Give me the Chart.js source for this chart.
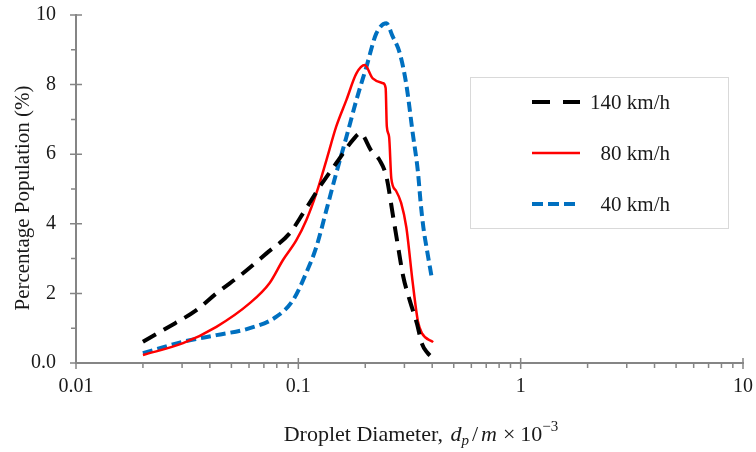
<!DOCTYPE html>
<html>
<head>
<meta charset="utf-8">
<script src="https://cdn.jsdelivr.net/npm/chart.js@4/dist/chart.umd.min.js"></script>
<style>
  body { margin: 0; background: #fff; }
</style>
</head>
<body>
<canvas id="dropChart" width="756" height="452"></canvas>
<script>
// droplet size distributions at three air speeds
const d140 = [0.02, 0.0255, 0.0348, 0.0428, 0.0564, 0.0719, 0.0915, 0.105, 0.125, 0.148, 0.176, 0.19, 0.213, 0.232, 0.249, 0.267, 0.28, 0.296, 0.317, 0.341, 0.36, 0.38, 0.404]
const p140 = [0.61, 1.0, 1.52, 2.0, 2.58, 3.15, 3.73, 4.3, 5.07, 5.74, 6.41, 6.6, 6.1, 5.83, 5.35, 4.2, 3.4, 2.5, 1.8, 1.15, 0.55, 0.3, 0.13]

const d80 = [0.02, 0.0303, 0.0428, 0.0605, 0.0743, 0.0853, 0.098, 0.1087, 0.1206, 0.1338, 0.148, 0.1646, 0.1825, 0.199, 0.216, 0.2405, 0.247, 0.25, 0.256, 0.262, 0.275, 0.29, 0.306, 0.327, 0.345, 0.36, 0.404]
const p80 = [0.23, 0.57, 1.04, 1.72, 2.3, 2.96, 3.53, 4.11, 4.88, 5.83, 6.79, 7.56, 8.32, 8.56, 8.18, 8.04, 7.9, 6.8, 6.5, 5.3, 4.95, 4.6, 3.9, 2.3, 1.2, 0.85, 0.6]

const d40 = [0.02, 0.0303, 0.0428, 0.0605, 0.0797, 0.0947, 0.1087, 0.1206, 0.1338, 0.148, 0.1646, 0.1825, 0.2024, 0.2243, 0.249, 0.265, 0.286, 0.306, 0.327, 0.345, 0.355, 0.365, 0.38, 0.397]
const p40 = [0.28, 0.61, 0.8, 1.0, 1.33, 1.81, 2.6, 3.34, 4.4, 5.45, 6.5, 7.56, 8.51, 9.47, 9.76, 9.4, 8.9, 8.0, 6.6, 5.5, 4.6, 3.9, 3.2, 2.5]

const seriesNames = ['140 km/h', '80 km/h', '40 km/h']
const xTickValues = [0.01, 0.1, 1, 10]
const yTickValues = [0, 2, 4, 6, 8, 10]

const serif = '"Liberation Serif", "Times New Roman", serif'
const axisColor = '#858585'
const textColor = '#1a1a1a'

const toPoints = (xs, ys) => xs.map((x, i) => ({x: x, y: ys[i]}))

// keep the plot box fixed, labels may hang over the edges
const fixScale = (scale, size) => {
  if (scale.isHorizontal()) scale.height = size
  else scale.width = size
  scale.paddingTop = 0
  scale.paddingBottom = 0
  scale.paddingLeft = 0
  scale.paddingRight = 0
}

// tick marks: long ones cross the axis, short ones hang outside
const axisTicks = {
  id: 'axisTicks',
  afterDraw(chart) {
    const {ctx, scales: {x, y}} = chart
    const base = y.getPixelForValue(0)
    const left = x.getPixelForValue(xTickValues[0])
    ctx.save()
    ctx.strokeStyle = axisColor
    ctx.lineWidth = 1.5
    ctx.beginPath()
    for (let i = 0; i < xTickValues.length; i++) {
      const dec = xTickValues[i]
      const px = x.getPixelForValue(dec)
      ctx.moveTo(px, base - 5)
      ctx.lineTo(px, base + 6)
      if (i === xTickValues.length - 1) break
      for (let k = 2; k <= 9; k++) {
        const mx = x.getPixelForValue(dec * k)
        ctx.moveTo(mx, base)
        ctx.lineTo(mx, base + 5)
      }
    }
    for (let v = 0; v <= 10; v++) {
      const py = y.getPixelForValue(v)
      if (v % 2 === 0) {
        ctx.moveTo(left - 6, py)
        ctx.lineTo(left + 6, py)
      } else {
        ctx.moveTo(left - 5, py)
        ctx.lineTo(left, py)
      }
    }
    ctx.stroke()
    ctx.restore()
  }
}

// axis titles, the x one has italic symbols and sub/superscripts
const axisTitles = {
  id: 'axisTitles',
  afterDraw(chart) {
    const ctx = chart.ctx
    ctx.save()
    ctx.fillStyle = textColor

    ctx.translate(23, 198)
    ctx.rotate(-Math.PI / 2)
    ctx.font = '21px ' + serif
    ctx.textAlign = 'center'
    ctx.textBaseline = 'middle'
    ctx.fillText('Percentage Population (%)', 0, 0)
    ctx.setTransform(1, 0, 0, 1, 0, 0)

    const parts = [
      {t: 'Droplet Diameter, ', f: '22px ', dy: 0, gap: 2},
      {t: 'd', f: 'italic 22px ', dy: 0, gap: 0},
      {t: 'p', f: 'italic 15px ', dy: 4, gap: 3},
      {t: '/', f: '22px ', dy: 0, gap: 3},
      {t: 'm', f: 'italic 22px ', dy: 0, gap: 6},
      {t: '\u00d7', f: '22px ', dy: 0, gap: 5},
      {t: '10', f: '22px ', dy: 0, gap: 0},
      {t: '\u22123', f: '15px ', dy: -10, gap: 0}
    ]
    ctx.textAlign = 'left'
    ctx.textBaseline = 'alphabetic'
    let total = 0
    parts.forEach(p => { ctx.font = p.f + serif; p.w = ctx.measureText(p.t).width; total += p.w + p.gap })
    let cx = 421 - total / 2
    parts.forEach(p => {
      ctx.font = p.f + serif
      ctx.fillText(p.t, cx, 441 + p.dy)
      cx += p.w + p.gap
    })
    ctx.restore()
  }
}

// framed legend inside the plot area
const boxLegend = {
  id: 'boxLegend',
  afterDraw(chart) {
    const ctx = chart.ctx
    ctx.save()
    ctx.strokeStyle = '#d9d9d9'
    ctx.lineWidth = 1
    ctx.strokeRect(470.5, 77.5, 258, 151)
    const rows = [102, 153, 204]
    chart.data.datasets.forEach((ds, i) => {
      ctx.strokeStyle = ds.borderColor
      ctx.lineWidth = ds.borderWidth
      ctx.setLineDash(ds.legendDash || [])
      ctx.beginPath()
      ctx.moveTo(532, rows[i])
      ctx.lineTo(580, rows[i])
      ctx.stroke()
      ctx.setLineDash([])
      ctx.fillStyle = textColor
      ctx.font = '21px ' + serif
      ctx.textAlign = 'right'
      ctx.textBaseline = 'middle'
      ctx.fillText(ds.label, 670, rows[i] + 1)
    })
    ctx.restore()
  }
}

const data = {
  datasets: [
    {
      label: seriesNames[0],
      data: toPoints(d140, p140),
      borderColor: '#000000',
      borderWidth: 4,
      borderDash: [15, 9],
      legendDash: [18, 13]
    },
    {
      label: seriesNames[1],
      data: toPoints(d80, p80),
      borderColor: '#ff0000',
      borderWidth: 2.5
    },
    {
      label: seriesNames[2],
      data: toPoints(d40, p40),
      borderColor: '#0070c0',
      borderWidth: 4,
      borderDash: [10, 5],
      legendDash: [11, 5]
    }
  ]
}

const config = {
  type: 'line',
  data: data,
  options: {
    responsive: false,
    animation: false,
    layout: {padding: {top: 15, right: 13, left: 0, bottom: 0}},
    elements: {
      point: {radius: 0},
      line: {cubicInterpolationMode: 'monotone', fill: false}
    },
    plugins: {
      legend: {display: false},
      tooltip: {enabled: false}
    },
    scales: {
      x: {
        type: 'logarithmic',
        min: 0.01,
        max: 10,
        afterBuildTicks: scale => { scale.ticks = xTickValues.map(v => ({value: v})) },
        afterFit: scale => fixScale(scale, 89),
        grid: {display: false, drawTicks: false},
        border: {display: true, color: axisColor, width: 2},
        ticks: {
          autoSkip: false,
          maxRotation: 0,
          padding: 12,
          color: textColor,
          font: {family: serif, size: 20},
          callback: v => String(v)
        }
      },
      y: {
        min: 0,
        max: 10,
        afterBuildTicks: scale => { scale.ticks = yTickValues.map(v => ({value: v})) },
        afterFit: scale => fixScale(scale, 76),
        grid: {display: false, drawTicks: false},
        border: {display: true, color: axisColor, width: 2},
        ticks: {
          padding: 20,
          color: textColor,
          font: {family: serif, size: 20},
          callback: v => v === 0 ? '0.0' : String(v)
        }
      }
    }
  },
  plugins: [axisTicks, axisTitles, boxLegend]
}

new Chart(document.getElementById('dropChart'), config)
</script>
</body>
</html>
